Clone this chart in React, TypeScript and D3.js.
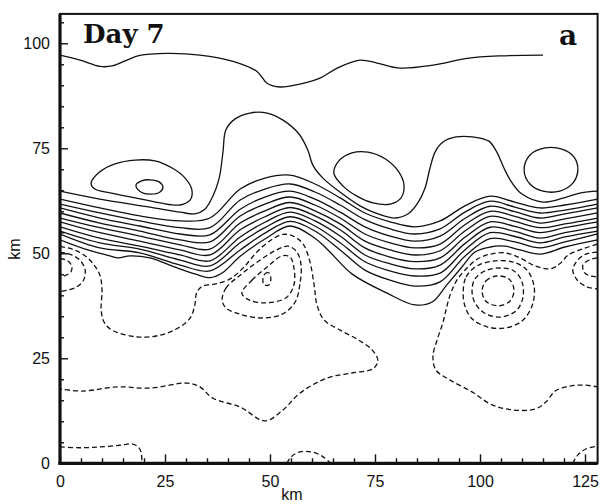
import { useEffect, useRef } from "react";
import * as d3 from "d3";

type Pt = [number, number];

// axis ticks (km)
const xMajor = [0, 25, 50, 75, 100, 125];
const yMajor = [0, 25, 50, 75, 100];
const xMinor = d3.range(0, 128, 5).filter((v) => v % 25 !== 0);
const yMinor = d3.range(0, 107, 5).filter((v) => v % 25 !== 0);

// top solid contour
const topLine: Pt[] = [
  [0, 97.2], [4.8, 96.0], [9.5, 94.5], [12.4, 94.6], [15.5, 95.8], [19, 97.1],
  [25.5, 97.6], [33.3, 97.2], [41.2, 95.7], [46.9, 93.3], [49.3, 90.5], [52.4, 89.6],
  [57.1, 90.3], [61.9, 91.7], [66, 94.1], [71.4, 96.0], [75.5, 95.3], [81, 94.1],
  [88.8, 94.8], [96.9, 96.4], [104.8, 97.0], [115, 97.2],
];

// outermost band contour with the two tongues
const tongueLine: Pt[] = [
  [0, 64.8], [9.5, 62.9], [21.4, 61.0], [28.6, 59.8], [32.1, 59.4], [34.5, 60.5],
  [36.4, 63.6], [37.9, 67.9], [38.8, 74.1], [39.5, 79.4], [41.7, 82.0], [45.2, 83.4],
  [49.3, 83.4], [53.1, 81.7], [56.9, 78.4], [59.0, 74.6], [60.2, 71.0], [62.6, 67.9],
  [66.9, 64.4], [71.4, 61.3], [75.7, 59.4], [79.8, 58.4], [82.9, 59.4], [85.2, 62.0],
  [86.9, 65.5], [88.1, 70.3], [89.3, 74.1], [91.2, 76.5], [94.3, 77.7], [98.3, 77.7],
  [102.1, 76.7], [104.0, 74.1], [105.7, 70.3], [107.6, 66.8], [110.0, 64.1],
  [115.0, 62.2], [120.0, 63.2], [124.0, 64.4], [128, 64.8],
];

// stacked band contours, read at shared columns
const bandX = [0, 9.5, 19, 28.6, 35.7, 42.9, 48.8, 54.8, 60.7, 66.7, 72.6, 78.6, 84.5, 90.5, 96.4, 102.4, 108.3, 114.3, 120.2, 128];
const band2 = [62.9, 60.8, 58.9, 57.7, 58.4, 65.3, 67.9, 68.6, 66.5, 63.2, 59.6, 57.5, 56.3, 57.7, 61.3, 63.6, 62.2, 60.8, 61.5, 62.9];
const band3 = [61.7, 59.6, 57.7, 56.1, 56.1, 62.7, 65.3, 66.5, 64.6, 61.5, 58.0, 55.8, 54.6, 55.8, 59.8, 62.4, 61.0, 59.6, 60.3, 61.7];
const band4 = [60.8, 58.4, 56.5, 54.6, 54.4, 60.5, 63.4, 64.8, 62.9, 59.8, 56.3, 54.1, 52.9, 54.1, 58.3, 61.2, 59.9, 58.4, 59.4, 60.8];
const band5 = [59.6, 57.2, 55.3, 53.2, 52.7, 58.9, 61.7, 63.4, 61.5, 58.4, 54.6, 52.5, 51.3, 52.2, 56.8, 60.0, 58.8, 57.2, 58.2, 59.6];
const band6 = [58.4, 56.1, 54.1, 52.0, 51.0, 57.2, 60.1, 62.1, 60.1, 57.0, 52.9, 50.8, 49.6, 50.6, 55.3, 58.8, 57.6, 56.1, 57.0, 58.4];
const band7 = [57.5, 54.9, 52.9, 50.8, 49.6, 55.6, 58.7, 60.9, 58.9, 55.6, 51.3, 49.1, 48.0, 48.9, 53.8, 57.5, 56.4, 54.9, 56.1, 57.5];
const band8 = [56.3, 53.6, 51.7, 49.6, 48.2, 53.9, 57.4, 59.8, 57.7, 54.1, 49.6, 47.5, 46.3, 47.2, 52.3, 56.2, 55.2, 53.6, 54.9, 56.3];
const band9 = [55.3, 52.5, 51.0, 48.4, 47.0, 52.5, 56.1, 58.7, 56.5, 52.5, 48.0, 45.8, 44.6, 45.3, 50.8, 54.9, 54.0, 52.5, 53.9, 55.3];
const band10 = [54.6, 51.3, 50.1, 47.2, 45.8, 50.8, 54.8, 57.6, 55.3, 50.8, 46.0, 43.6, 42.2, 43.2, 49.3, 53.5, 52.7, 51.3, 52.7, 54.6];

// lowest solid contour
const lowerLine: Pt[] = [
  [0, 53.2], [6.0, 51.0], [11.9, 49.4], [13.8, 48.9], [16.7, 49.4], [21.4, 48.9],
  [27.4, 46.7], [32.1, 45.1], [35.7, 44.2], [38.6, 45.3], [42.9, 49.3], [48.8, 53.4],
  [54.8, 56.5], [60.7, 53.6], [63.8, 50.8], [69.5, 45.1], [77.9, 40.5], [84.5, 37.7],
  [88.6, 38.4], [92.1, 42.5], [95.5, 46.5], [98.8, 50.3], [102.4, 51.5], [106.0, 51.7],
  [109.5, 50.8], [114.3, 49.8], [120.2, 51.5], [128, 53.2],
];

// closed solid contours above the band
const ovalWest: Pt[] = [
  [7.4, 66.7], [9.5, 69.4], [13.1, 71.3], [17.9, 72.2], [22.6, 72.0], [26.7, 70.3],
  [29.8, 67.9], [31.4, 65.1], [31.0, 62.7], [28.6, 61.5], [23.8, 62.0], [17.9, 63.2],
  [11.9, 64.4], [8.3, 65.3],
];
const ovalWestInner: Pt[] = [
  [18.1, 66.3], [19.3, 67.2], [21.4, 67.5], [23.6, 67.0], [24.5, 65.8], [23.8, 64.6],
  [21.4, 64.1], [19.0, 64.8],
];
const ovalMid: Pt[] = [
  [65.2, 69.1], [66.4, 72.0], [69.5, 73.9], [73.3, 74.1], [77.4, 72.5], [80.5, 69.6],
  [81.9, 66.3], [81.2, 63.2], [78.6, 61.7], [74.5, 62.0], [70.7, 63.6], [67.4, 66.0],
];
const ovalEast: Pt[] = [
  [110.5, 69.8], [111.9, 73.4], [115.5, 75.1], [119.5, 74.8], [122.4, 72.9], [123.3, 69.8],
  [122.1, 66.7], [119.0, 64.8], [115.0, 64.8], [111.9, 66.5],
];

// dashed (negative) contours
const negWest: Pt[] = [
  [0, 51.6], [2.9, 51.0], [5.7, 49.6], [7.9, 47.5], [9.5, 44.8], [10.0, 41.3],
  [9.8, 36.5], [10.5, 33.6], [12.4, 31.7], [18.3, 30.1], [23.8, 30.5], [28.1, 32.2],
  [31.0, 34.6], [32.1, 37.7], [32.6, 40.8], [34.0, 42.2], [37.1, 42.7], [40.5, 43.9],
  [43.6, 46.5], [46.7, 50.1], [50.0, 53.0], [53.1, 54.5], [55.5, 54.1], [57.9, 52.2],
  [59.5, 48.0], [60.5, 42.5], [61.2, 37.7], [62.9, 34.1], [66.7, 31.7], [71.0, 29.4],
  [74.3, 27.0], [75.7, 24.4], [74.5, 22.5], [69.5, 21.5], [63.6, 20.3], [57.1, 16.7],
  [53.1, 12.7], [48.8, 10.1], [42.9, 13.4], [36.4, 15.5], [33.3, 18.2], [30.2, 19.1],
  [21.4, 17.9], [13.6, 18.2], [5.5, 17.2], [0, 17.7],
];
const negEast: Pt[] = [
  [127.9, 52.2], [124.3, 51.0], [121.0, 49.6], [119.0, 47.5], [116.7, 46.3], [113.1, 47.0],
  [109.5, 48.9], [106.0, 50.1], [102.4, 49.8], [99.5, 48.7], [96.9, 46.5], [94.5, 43.6],
  [92.9, 40.1], [91.9, 36.5], [91.2, 33.6], [89.8, 29.4], [88.8, 25.5], [89.5, 22.2],
  [92.9, 19.8], [98.1, 17.0], [102.9, 13.9], [107.9, 12.7], [113.1, 12.9], [115.7, 14.6],
  [117.9, 17.2], [121.4, 18.4], [125.0, 18.6], [127.9, 18.2],
];
const edgeWestA: Pt[] = [[0, 50.3], [2.6, 49.7], [4.8, 48.3], [6.0, 46.0], [5.5, 43.4], [3.6, 41.8], [0, 40.9]];
const edgeWestB: Pt[] = [[0, 48.7], [1.7, 48.3], [2.8, 47.0], [2.6, 45.6], [1.2, 44.7], [0, 44.5]];
const edgeEastA: Pt[] = [[127.9, 50.3], [125.2, 49.8], [123.1, 48.2], [122.1, 46.0], [123.1, 43.7], [125.5, 42.0], [127.9, 41.5]];
const edgeEastB: Pt[] = [[127.9, 48.9], [126.0, 48.4], [124.5, 47.2], [124.8, 45.5], [126.2, 44.6], [127.9, 44.4]];
const floorWest: Pt[] = [[0, 3.9], [4.8, 3.7], [9.5, 3.9], [14.3, 4.3], [17.1, 4.6], [18.6, 3.9], [19.3, 2.7], [19.5, 0]];
const floorMid: Pt[] = [[54.0, 0], [55.2, 1.7], [57.1, 2.7], [60.0, 2.7], [62.4, 1.7], [64.5, 0]];
const floorEast: Pt[] = [[122.1, 0], [123.3, 2.0], [125.2, 3.4], [127.9, 4.1]];

const ringWest1: Pt[] = [
  [38.6, 38.9], [39.5, 41.7], [42.9, 44.8], [47.1, 48.0], [51.2, 50.6], [54.3, 51.7],
  [56.4, 50.3], [57.4, 47.2], [57.1, 42.5], [56.0, 38.4], [52.9, 35.5], [48.1, 34.6],
  [42.9, 35.5], [39.5, 37.0],
];
const ringWest2: Pt[] = [
  [43.3, 40.5], [45.7, 43.6], [49.5, 46.9], [52.9, 49.4], [54.8, 49.1], [55.7, 46.5],
  [55.7, 42.5], [53.8, 39.4], [49.0, 38.2], [45.0, 38.9],
];
const ringWest3: Pt[] = [[48.3, 43.6], [48.8, 45.1], [49.8, 45.3], [50.2, 43.9], [49.8, 42.5], [48.6, 42.5]];
const ringEast1: Pt[] = [
  [96.0, 40.8], [96.7, 44.4], [99.3, 47.0], [103.6, 48.2], [107.9, 47.9], [111.2, 46.0],
  [112.9, 42.0], [112.4, 37.5], [110.0, 33.9], [106.0, 32.2], [101.7, 32.5], [98.1, 34.4],
  [96.4, 37.5],
];
const ringEast2: Pt[] = [
  [98.1, 41.0], [98.8, 43.9], [101.2, 45.8], [104.8, 46.5], [108.1, 45.8], [110.0, 43.2],
  [110.2, 39.4], [108.6, 36.3], [104.8, 34.8], [101.0, 35.8], [98.8, 38.2],
];
const ringEast3: Pt[] = [
  [100.5, 41.0], [101.4, 43.4], [104.0, 44.6], [106.9, 43.9], [108.1, 41.3], [107.1, 38.6],
  [104.3, 37.5], [101.4, 38.6],
];

const INK = "#111";
const SANS = "'Liberation Sans', Arial, Helvetica, sans-serif";

function renderChart(el: SVGSVGElement) {
  const svg = d3.select(el);
  svg.selectAll("*").remove();

  const x = d3.scaleLinear().domain([0, 128]).range([60, 597.6]);
  const y = d3.scaleLinear().domain([0, 107]).range([463.3, 13.9]);

  svg
    .append("defs")
    .append("clipPath")
    .attr("id", "plot-clip")
    .append("rect")
    .attr("x", x(0))
    .attr("y", y(107))
    .attr("width", x(128) - x(0))
    .attr("height", y(0) - y(107));

  const openLine = d3
    .line<Pt>()
    .x((d) => x(d[0]))
    .y((d) => y(d[1]))
    .curve(d3.curveCatmullRom.alpha(0.5));
  const loopLine = d3
    .line<Pt>()
    .x((d) => x(d[0]))
    .y((d) => y(d[1]))
    .curve(d3.curveCatmullRomClosed.alpha(0.5));

  const plot = svg.append("g").attr("clip-path", "url(#plot-clip)");

  const bandRows = [band2, band3, band4, band5, band6, band7, band8, band9, band10];
  const solidOpen: Pt[][] = [
    topLine,
    tongueLine,
    ...bandRows.map((row) => row.map((v, i) => [bandX[i], v] as Pt)),
    lowerLine,
  ];
  const solidClosed = [ovalWest, ovalWestInner, ovalMid, ovalEast];
  const dashOpen = [negWest, negEast, edgeWestA, edgeWestB, edgeEastA, edgeEastB, floorWest, floorMid, floorEast];
  const dashClosed = [ringWest1, ringWest2, ringWest3, ringEast1, ringEast2, ringEast3];

  const style = (sel: d3.Selection<SVGPathElement, Pt[], SVGGElement, unknown>, dashed: boolean) =>
    sel
      .attr("fill", "none")
      .attr("stroke", INK)
      .attr("stroke-width", 1.3)
      .attr("stroke-dasharray", dashed ? "5,3" : null);

  style(plot.append("g").selectAll("path").data(solidOpen).join("path").attr("d", openLine), false);
  style(plot.append("g").selectAll("path").data(solidClosed).join("path").attr("d", loopLine), false);
  style(plot.append("g").selectAll("path").data(dashOpen).join("path").attr("d", openLine), true);
  style(plot.append("g").selectAll("path").data(dashClosed).join("path").attr("d", loopLine), true);

  // ticks, pointing into the plot
  const styleAxis = (g: d3.Selection<SVGGElement, unknown, null, undefined>) => {
    g.select(".domain").remove();
    g.selectAll("line").attr("stroke", INK).attr("stroke-width", 1.4);
    g.selectAll("text").attr("fill", INK).attr("font-size", 16).attr("font-family", SANS);
  };

  svg
    .append("g")
    .attr("transform", `translate(0,${y(0)})`)
    .call(d3.axisBottom(x).tickValues(xMajor).tickSizeInner(-9).tickSizeOuter(0).tickPadding(12))
    .call(styleAxis);
  svg
    .append("g")
    .attr("transform", `translate(0,${y(0)})`)
    .call(d3.axisBottom(x).tickValues(xMinor).tickSizeInner(-5).tickSizeOuter(0).tickFormat(() => ""))
    .call(styleAxis);
  svg
    .append("g")
    .attr("transform", `translate(${x(0)},0)`)
    .call(d3.axisLeft(y).tickValues(yMajor).tickSizeInner(-8).tickSizeOuter(0).tickPadding(10))
    .call(styleAxis);
  svg
    .append("g")
    .attr("transform", `translate(${x(0)},0)`)
    .call(d3.axisLeft(y).tickValues(yMinor).tickSizeInner(-4).tickSizeOuter(0).tickFormat(() => ""))
    .call(styleAxis);

  // frame
  svg
    .append("rect")
    .attr("x", x(0))
    .attr("y", y(107))
    .attr("width", x(128) - x(0))
    .attr("height", y(0) - y(107))
    .attr("fill", "none")
    .attr("stroke", INK)
    .attr("stroke-width", 2);
  svg.append("line").attr("x1", x(0)).attr("x2", x(0)).attr("y1", y(107)).attr("y2", y(0) + 1.5)
    .attr("stroke", INK).attr("stroke-width", 3.2);
  svg.append("line").attr("x1", x(0) - 1.5).attr("x2", x(128)).attr("y1", y(0)).attr("y2", y(0))
    .attr("stroke", INK).attr("stroke-width", 3.2);

  // labels
  svg.append("text").attr("x", 292).attr("y", 500).attr("text-anchor", "middle")
    .attr("font-family", SANS).attr("font-size", 16).attr("fill", INK).text("km");
  svg.append("text").attr("transform", `translate(20,${y(51)}) rotate(-90)`).attr("text-anchor", "middle")
    .attr("font-family", SANS).attr("font-size", 16).attr("fill", INK).text("km");

  svg.append("text").attr("x", 83).attr("y", 43).attr("font-family", "'DejaVu Serif', serif")
    .attr("font-weight", "bold").attr("font-size", 26).attr("fill", INK).text("Day 7");
  svg.append("text").attr("x", 559).attr("y", 45).attr("font-family", "'DejaVu Serif', serif")
    .attr("font-weight", "bold").attr("font-size", 28).attr("fill", INK).text("a");
}

export default function App() {
  const ref = useRef<SVGSVGElement>(null);
  useEffect(() => {
    if (ref.current) renderChart(ref.current);
  }, []);
  return (
    <svg
      ref={ref}
      width={601}
      height={504}
      style={{ position: "absolute", left: 0, top: 0, background: "#fff" }}
    />
  );
}
